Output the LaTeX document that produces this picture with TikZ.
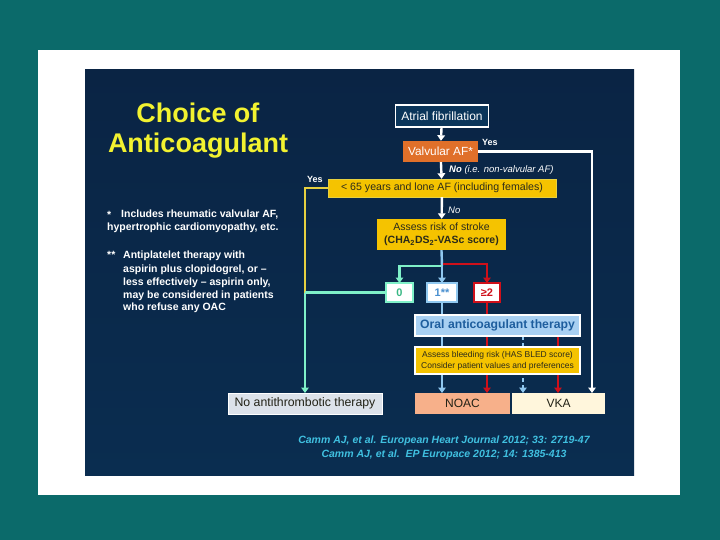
\documentclass[tikz,border=0pt]{standalone}
\usepackage{fontspec}
\setmainfont{Liberation Sans}
\usetikzlibrary{arrows.meta}
\definecolor{teal0}{HTML}{0B6A6A}
\definecolor{navyT}{HTML}{0A2444}
\definecolor{navyM}{HTML}{0E5C8E}
\definecolor{navyB}{HTML}{0A2D50}
\definecolor{ttl}{HTML}{F2F230}
\definecolor{orng}{HTML}{E0702A}
\definecolor{gold}{HTML}{F5C300}
\definecolor{goldln}{HTML}{E6D040}
\definecolor{mint}{HTML}{7FF0C8}
\definecolor{mintT}{HTML}{38B884}
\definecolor{lblue}{HTML}{90C8F0}
\definecolor{lblueT}{HTML}{4A90D0}
\definecolor{redc}{HTML}{D0101A}
\definecolor{oacF}{HTML}{A8D0F2}
\definecolor{oacT}{HTML}{1E5E9E}
\definecolor{noacF}{HTML}{F7B08A}
\definecolor{vkaF}{HTML}{FFF6DC}
\definecolor{noneF}{HTML}{DCE2EA}
\definecolor{darkT}{HTML}{2B2B1B}
\definecolor{cite}{HTML}{40C0E0}
\tikzset{
  box/.style={rectangle, inner sep=0pt, align=center, font=\fontsize{12}{14}\selectfont},
  conn/.style={line width=2.4pt},
  tip/.style={-{Triangle[width=7.5pt,length=5.5pt]}},
  lbl/.style={inner sep=0pt, text=white, font=\fontsize{9}{11}\selectfont\bfseries},
  foot/.style={inner sep=0pt, anchor=west, text=white, font=\fontsize{10.5}{12}\selectfont\bfseries},
  sbox/.style={box, fill=white, minimum height=19pt, line width=2.2pt, font=\fontsize{11}{13}\selectfont\bfseries}
}
\begin{document}
\begin{tikzpicture}[x=1pt,y=-1pt]
\useasboundingbox (0,0) rectangle (720,540);
\fill[teal0] (0,0) rectangle (720,540);
\fill[white] (38,50) rectangle (680,495);
\shade[top color=navyT, middle color=navyM, bottom color=navyB] (85,70) rectangle (634,475);

% title
\node[inner sep=0pt, text=ttl, align=center, font=\fontsize{27}{30}\selectfont\bfseries] (title) at (198,131) {Choice of\\Anticoagulant};

% footnotes
\node[foot] (f1a) at (107,215) {*};
\node[foot] (f1b) at (121,215) {Includes rheumatic valvular AF,};
\node[foot] (f1c) at (107,228) {hypertrophic cardiomyopathy, etc.};
\node[foot] (f2a) at (107,255) {**};
\node[foot] (f2b) at (123,256) {Antiplatelet therapy with};
\node[foot] (f2c) at (123,270) {aspirin plus clopidogrel, or --};
\node[foot] (f2d) at (123,283) {less effectively -- aspirin only,};
\node[foot] (f2e) at (123,296) {may be considered in patients};
\node[foot] (f2f) at (123,308) {who refuse any OAC};

% coordinates for connector routing
\coordinate (vkaW) at (592,393);
\coordinate (cYes) at (305,188);
\coordinate (cJoin) at (305,292.5);
\coordinate (cSplit) at (442,266);
\coordinate (cSplitR) at (443,264);
\coordinate (cDash) at (523,336);
\coordinate (cRed2) at (558,336);
\coordinate (vkaD) at (523,393);
\coordinate (vkaR) at (558,393);

% nodes
\node[box, draw=white, line width=1.5pt, fill=navyT!70!navyM, text=white, minimum width=93pt, minimum height=22pt] (af) at (442,116) {Atrial fibrillation};
\node[box, fill=orng, text=white, minimum width=75pt, minimum height=21pt, font=\fontsize{11.8}{14}\selectfont] (valv) at (440.5,151.5) {Valvular AF*};
\node[box, fill=gold, draw=goldln, text=darkT, minimum width=228pt, minimum height=18pt, font=\fontsize{10.6}{12}\selectfont] (lone) at (442,188) {< 65 years and lone AF (including females)};
\node[box, fill=gold, text=darkT, minimum width=129pt, minimum height=31pt, font=\fontsize{10.5}{12.5}\selectfont] (stroke) at (441.5,234.5) {Assess risk of stroke\\\textbf{(CHA\textsubscript{2}DS\textsubscript{2}-VASc score)}};

% connectors (drawn before lower boxes so boxes cover them)
\draw[conn, white, tip] (af) -- (valv);
\draw[conn, white, tip] (valv) -- (lone);
\draw[conn, white, tip] (lone) -- (stroke);
\draw[conn, white, tip] (valv.east) -| (vkaW);
\draw[conn, goldln] (lone.west) -- (cYes) -- (cJoin);
\draw[conn, mint, tip] (cJoin) -- (305,393) coordinate (noneN);
\draw[conn, lblue] (stroke.south) -- (cSplit);
\draw[conn, redc, tip] (cSplitR) -| (487,283) coordinate (s2N);
\draw[conn, mint, tip] (cSplit) -| (399.5,283) coordinate (s0N);
\draw[conn, lblue, tip] (cSplit) -- (442,283) coordinate (s1N);
\draw[conn, lblue, tip] (442,302) -- (442,393) coordinate (noacL);
\draw[conn, redc, tip] (487,302) -- (487,393) coordinate (noacR);
\draw[conn, lblue, dash pattern=on 4pt off 3pt, tip] (cDash) -- (vkaD);
\draw[conn, redc, tip] (cRed2) -- (vkaR);

\node[sbox, draw=mint, text=mintT, minimum width=27pt] (s0) at (399.5,292.5) {0};
\node[sbox, draw=lblue, text=lblueT, minimum width=30pt] (s1) at (442,292.5) {1**};
\node[sbox, draw=redc, text=redc, minimum width=26pt] (s2) at (487,292.5) {≥2};
\draw[conn, mint] (s0.west) -- (cJoin);

\node[box, fill=oacF, draw=white, line width=1.2pt, text=oacT, minimum width=165pt, minimum height=21pt, font=\fontsize{12.2}{14}\selectfont\bfseries] (oac) at (497.5,325.5) {Oral anticoagulant therapy};
\node[box, fill=gold, draw=white, line width=1.2pt, text=darkT, minimum width=165pt, minimum height=27pt, font=\fontsize{8.5}{11}\selectfont] (bleed) at (497.5,360.5) {Assess bleeding risk (HAS BLED score)\\Consider patient values and preferences};
\node[box, fill=noacF, text=darkT!80!black, minimum width=95pt, minimum height=21pt] (noac) at (462.5,403.5) {NOAC};
\node[box, fill=vkaF, text=darkT!80!black, minimum width=93pt, minimum height=21pt] (vka) at (558.5,403.5) {VKA};
\node[box, fill=noneF, draw=white, line width=0.8pt, text=darkT!80!black, minimum width=154pt, minimum height=21pt, font=\fontsize{12.3}{14}\selectfont] (none) at (305,403.5) {No antithrombotic therapy};

% labels
\node[lbl, anchor=south west] (yes1) at (482,146) {Yes};
\node[lbl, anchor=west, font=\fontsize{9.5}{11}\selectfont\itshape] (no1) at (449,170) {\textbf{No} (i.e. non-valvular AF)};
\node[lbl, anchor=south west] (yes2) at (307,183) {Yes};
\node[lbl, anchor=west, font=\fontsize{9.5}{11}\selectfont\itshape] (no2) at (448,210) {No};

% citations
\node[inner sep=0pt, text=cite, align=center, font=\fontsize{10.5}{14}\selectfont\bfseries\itshape] (cites) at (444,448) {Camm AJ, et al. European Heart Journal 2012; 33: 2719-47\\Camm AJ, et al.\ \ EP Europace 2012; 14: 1385-413};
\end{tikzpicture}
\end{document}
